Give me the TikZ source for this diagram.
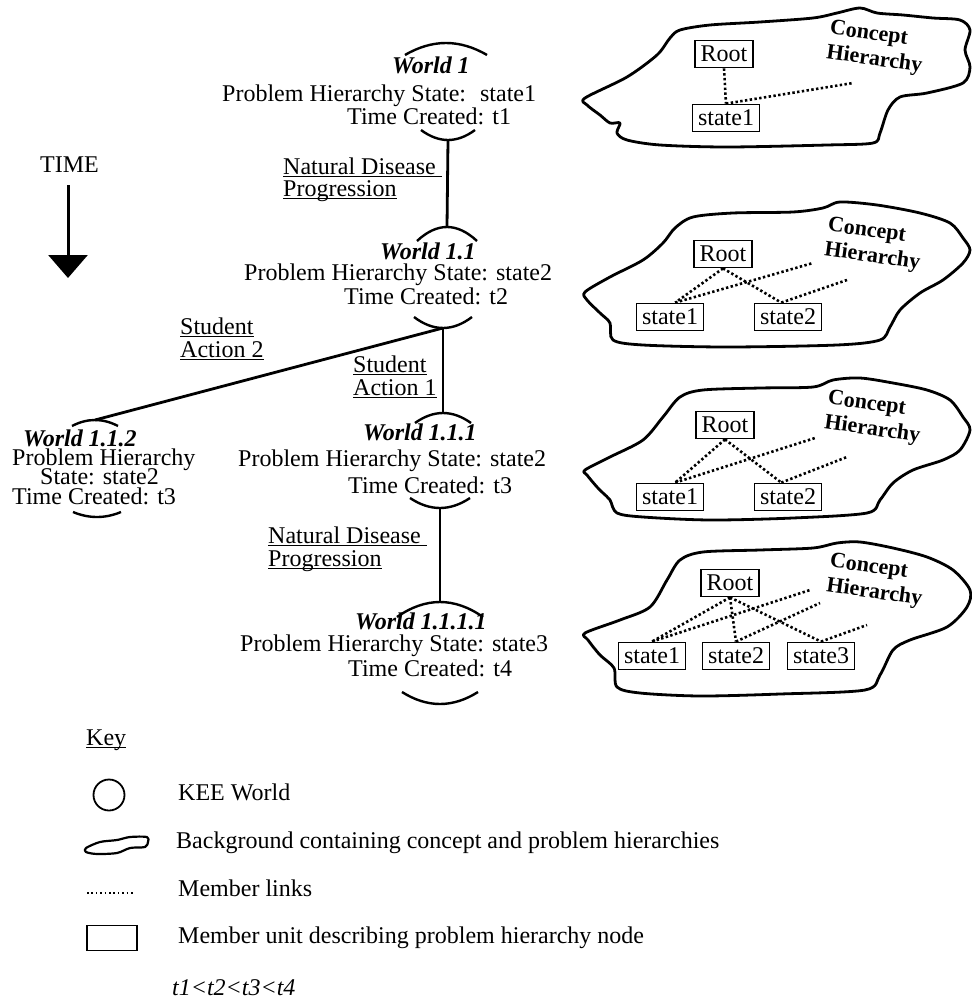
\documentclass[tikz,border=0pt]{standalone}
\usepackage{fontspec}
\setmainfont{Liberation Serif}
\usetikzlibrary{calc,arrows.meta}

% underlined label text with a word-processor style rule
\newsavebox\ulbox
\newcommand\ulined[1]{\sbox\ulbox{#1}\rlap{\rule[-3pt]{\wd\ulbox}{1.2pt}}\usebox\ulbox}

% arcs of a KEE world circle, drawn above and below its text
\newcommand\toparc[3]{\draw[worldarc] ($(#1)+(-#2,#3)$) .. controls ($(#1)+(-#2/3,-#3/3)$) and ($(#1)+(#2/3,-#3/3)$) .. ($(#1)+(#2,#3)$);}
\newcommand\botarc[3]{\draw[worldarc] ($(#1)+(-#2,-#3)$) .. controls ($(#1)+(-#2/3,#3/3)$) and ($(#1)+(#2/3,#3/3)$) .. ($(#1)+(#2,-#3)$);}

\tikzset{
  txt/.style={anchor=base west, inner sep=0pt, font=\fontsize{24}{28}\selectfont},
  wname/.style={anchor=base west, inner sep=0pt, font=\fontsize{24}{28}\selectfont\bfseries\itshape},
  link/.style={line width=2.8pt},
  worldarc/.style={line width=2.4pt},
  cloud/.style={line width=2.8pt, line join=round},
  unit/.style={draw, line width=1.8pt, inner xsep=5.5pt, inner ysep=5pt, text height=16pt, text depth=1pt, font=\fontsize{24}{28}\selectfont},
  member/.style={line width=2.6pt, dash pattern=on 2.4pt off 2.4pt},
  chlabel/.style={font=\fontsize{22}{25}\selectfont\bfseries, align=left, rotate=-8, inner sep=0pt}
}

\begin{document}
\begin{tikzpicture}[x=1pt,y=-1pt]
\useasboundingbox (0,0) rectangle (972,999);

% ---------- time axis ----------
\node[txt] (timelbl) at (40,172) {TIME};
\coordinate (timetop) at (68,185);
\coordinate (timeend) at (68,278);
\draw[line width=3pt, -{Triangle[width=39pt,length=23pt]}] (timetop) -- (timeend);

% ---------- world tree ----------
\coordinate (w1t) at (446,43);     \coordinate (w1b) at (448,140);
\coordinate (w11t) at (447,227);   \coordinate (w11b) at (443,328);
\coordinate (w111t) at (443,413);  \coordinate (w111b) at (440,508);
\coordinate (w1111t) at (440,602); \coordinate (w1111b) at (440,704);
\coordinate (w112t) at (95,420);   \coordinate (w112b) at (97,517);

\toparc{w1t}{41}{12}      \botarc{w1b}{27}{10}
\toparc{w11t}{30}{14}     \botarc{w11b}{29}{11}
\toparc{w111t}{28}{10}    \botarc{w111b}{30}{10}
\toparc{w1111t}{43}{15}   \botarc{w1111b}{38}{12}
\toparc{w112t}{23}{6}     \botarc{w112b}{24}{5}

\draw[link] (w1b) -- (w11t);
\draw[link] (w11b) -- (w111t);
\draw[link] (w11b) -- (w112t);
\draw[link] (w111b) -- (w1111t);

% World 1
\node[wname] (w1name) at (392,73) {World 1};
\node[txt] (w1state) at (222,101) {Problem Hierarchy State:~ state1};
\node[txt] (w1time) at (347,124) {Time Created: t1};
% World 1.1
\node[wname] (w11name) at (380,259) {World 1.1};
\node[txt] (w11state) at (244,280) {Problem Hierarchy State: state2};
\node[txt] (w11time) at (344,304) {Time Created: t2};
% World 1.1.2
\node[wname] (w112name) at (23,446) {World 1.1.2};
\node[txt] (w112stateA) at (12,465) {Problem Hierarchy};
\node[txt] (w112stateB) at (40,484) {State: state2};
\node[txt] (w112time) at (12,504) {Time Created: t3};
% World 1.1.1
\node[wname] (w111name) at (363,440) {World 1.1.1};
\node[txt] (w111state) at (238,466) {Problem Hierarchy State: state2};
\node[txt] (w111time) at (348,493) {Time Created: t3};
% World 1.1.1.1
\node[wname] (w1111name) at (355,629) {World 1.1.1.1};
\node[txt] (w1111state) at (240,651) {Problem Hierarchy State: state3};
\node[txt] (w1111time) at (348,676) {Time Created: t4};

% transition labels
\node[txt] (ndpA1) at (283,174) {\ulined{Natural Disease\ }};
\node[txt] (ndpB1) at (283,196) {\ulined{Progression}};
\node[txt] (sa2A) at (180,334) {\ulined{Student}};
\node[txt] (sa2B) at (180,357) {\ulined{Action 2}};
\node[txt] (sa1A) at (353,372) {\ulined{Student}};
\node[txt] (sa1B) at (353,395) {\ulined{Action 1}};
\node[txt] (ndpA2) at (268,543) {\ulined{Natural Disease\ }};
\node[txt] (ndpB2) at (268,566) {\ulined{Progression}};

% ---------- backgrounds with concept hierarchies ----------
% background of World 1
\draw[cloud] plot[smooth cycle, tension=0.5] coordinates {
  (585,98) (627,77) (657,55) (670,38) (680,30) (710,25) (760,22) (813,18)
  (837,13) (860,8) (877,13) (903,15) (933,18) (960,20) (970,30) (965,50)
  (970,67) (963,83) (927,93) (900,97) (888,110) (880,133) (873,143)
  (827,145) (727,147) (660,145) (627,140) (617,133) (620,123) (610,123)
  (600,115) (587,105)};
\node[chlabel] (ch1) at (876,48) {Concept\\Hierarchy};
\node[unit] (r1) at (724,54) {Root};
\node[unit] (r1s1) at (726,118) {state1};
\coordinate (r1e1) at (853,83);
\draw[member] (r1.south) -- (r1s1.north);
\draw[member] (r1s1.north) -- (r1e1);

% background of World 1.1
\draw[cloud] plot[smooth cycle, tension=0.5] coordinates {
  (585,292) (610,277) (643,260) (663,243) (675,228) (693,217) (733,213)
  (793,212) (823,208) (840,202) (877,205) (920,213) (950,223) (963,238)
  (970,250) (963,263) (943,280) (920,293) (900,310) (890,327) (880,340)
  (837,345) (727,347) (643,345) (613,340) (610,323) (600,313) (587,300)};
\node[chlabel] (ch2) at (874,245) {Concept\\Hierarchy};
\node[unit] (r2) at (723,254) {Root};
\node[unit] (r2s1) at (670,317) {state1};
\node[unit] (r2s2) at (788,317) {state2};
\coordinate (r2e1) at (813,263);
\coordinate (r2e2) at (847,280);
\draw[member] (r2.south) -- (r2s1.70);
\draw[member] (r2.south) -- (r2s2.115);
\draw[member] (r2s1.70) -- (r2e1);
\draw[member] (r2s2.115) -- (r2e2);

% background of World 1.1.1
\draw[cloud] plot[smooth cycle, tension=0.5] coordinates {
  (585,470) (610,457) (643,440) (663,417) (680,397) (703,390) (760,388)
  (813,387) (833,380) (860,378) (893,383) (927,390) (950,400) (963,417)
  (970,430) (960,450) (943,460) (913,470) (893,483) (880,500) (867,513)
  (793,518) (710,520) (643,517) (617,513) (610,500) (603,493) (597,487)
  (587,475)};
\node[chlabel] (ch3) at (874,418) {Concept\\Hierarchy};
\node[unit] (r3) at (725,425) {Root};
\node[unit] (r3s1) at (670,497) {state1};
\node[unit] (r3s2) at (788,497) {state2};
\coordinate (r3e1) at (815,438);
\coordinate (r3e2) at (847,457);
\draw[member] (r3.south) -- (r3s1.70);
\draw[member] (r3.south) -- (r3s2.115);
\draw[member] (r3s1.70) -- (r3e1);
\draw[member] (r3s2.115) -- (r3e2);

% background of World 1.1.1.1
\draw[cloud] plot[smooth cycle, tension=0.5] coordinates {
  (585,633) (620,620) (650,607) (667,580) (680,560) (703,552) (760,550)
  (813,548) (837,543) (860,542) (893,548) (927,557) (953,570) (970,590)
  (967,607) (947,627) (910,640) (893,650) (880,675) (865,690) (780,694)
  (700,696) (640,693) (617,687) (614,668) (600,655) (588,640)};
\node[chlabel] (ch4) at (876,581) {Concept\\Hierarchy};
\node[unit] (r4) at (730,583) {Root};
\node[unit] (r4s1) at (652,656) {state1};
\node[unit] (r4s2) at (736,656) {state2};
\node[unit] (r4s3) at (821,656) {state3};
\coordinate (r4e1) at (810,590);
\coordinate (r4e2) at (820,603);
\coordinate (r4e3) at (867,625);
\draw[member] (r4.south) -- (r4s1.north);
\draw[member] (r4.south) -- (r4s2.north);
\draw[member] (r4.south) -- (r4s3.north);
\draw[member] (r4s1.north) -- (r4e1);
\draw[member] (r4s2.north) -- (r4e2);
\draw[member] (r4s3.north) -- (r4e3);

% ---------- key ----------
\node[txt] (keyhead) at (86,745) {\ulined{Key}};
\node[draw, circle, line width=1.8pt, minimum size=31pt, inner sep=0pt] (keyworld) at (109,795) {};
\node[txt] (keyworldtxt) at (178,800) {KEE World};
\draw[line width=2.2pt, line join=round] plot[smooth cycle, tension=0.5] coordinates {
  (86,848) (100,842) (117,840) (130,837) (147,837) (148,842) (145,847)
  (130,848) (117,853) (97,854) (86,852)};
\node[txt] (keybgtxt) at (176,848) {Background containing concept and problem hierarchies};
\coordinate (keydotA) at (87,893);
\coordinate (keydotB) at (135,893);
\draw[line width=1.6pt, dash pattern=on 1.6pt off 2.8pt] (keydotA) -- (keydotB);
\node[txt] (keylinktxt) at (178,896) {Member links};
\node[draw, line width=1.8pt, minimum width=50pt, minimum height=25pt, inner sep=0pt] (keyunit) at (112,938) {};
\node[txt] (keyunittxt) at (178,943) {Member unit describing problem hierarchy node};
\node[txt, font=\fontsize{24}{28}\selectfont\itshape] (keyorder) at (172,995) {t1<t2<t3<t4};
\end{tikzpicture}
\end{document}
